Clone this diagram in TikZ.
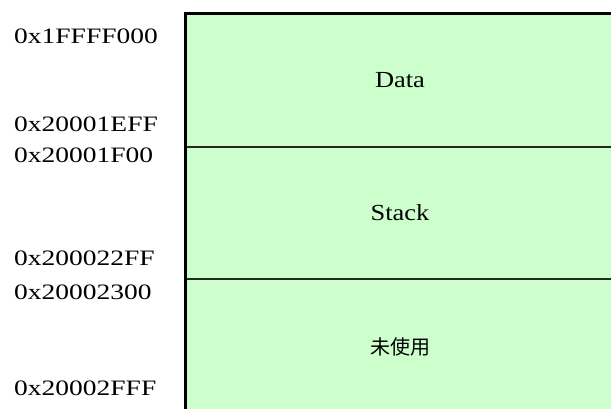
\documentclass[tikz,border=0pt]{standalone}
\usepackage{fontspec}
\setmainfont{Liberation Serif}
\newfontfamily\cjk{Noto Sans CJK SC}
\definecolor{memgreen}{HTML}{CCFFCC}
\tikzset{
  addr/.style={anchor=west, inner sep=0pt, font=\fontsize{22}{22}\selectfont},
  seglabel/.style={anchor=base, inner sep=0pt, font=\fontsize{23}{23}\selectfont},
  divider/.style={line width=1.5pt, black!85},
  outer/.style={line width=3pt, black, line join=miter}
}
\newcommand{\wideaddr}[1]{\scalebox{1.25}[1]{#1}}
\newcommand{\wideseg}[1]{\scalebox{1.15}[1]{#1}}
\begin{document}
\begin{tikzpicture}[x=1pt, y=-1pt]
  \useasboundingbox (0,0) rectangle (611,408);
  \clip (0,0) rectangle (611,408);
  \fill[memgreen] (185,13) rectangle (625,420);
  \draw[divider] (185,147) -- (625,147);
  \draw[divider] (185,279) -- (625,279);
  \draw[outer] (185,420) -- (185,13) -- (625,13);
  \node[seglabel] (data) at (400,87) {\wideseg{Data}};
  \node[seglabel] (stack) at (400,220) {\wideseg{Stack}};
  \node[inner sep=0pt, font=\fontsize{20}{20}\selectfont\cjk] (unused) at (400,347) {未使用};
  \node[addr] (a1) at (14,36) {\wideaddr{0x1FFFF000}};
  \node[addr] (a2) at (14,124) {\wideaddr{0x20001EFF}};
  \node[addr] (a3) at (14,155) {\wideaddr{0x20001F00}};
  \node[addr] (a4) at (14,258) {\wideaddr{0x200022FF}};
  \node[addr] (a5) at (14,292) {\wideaddr{0x20002300}};
  \node[addr] (a6) at (14,388) {\wideaddr{0x20002FFF}};
\end{tikzpicture}
\end{document}
